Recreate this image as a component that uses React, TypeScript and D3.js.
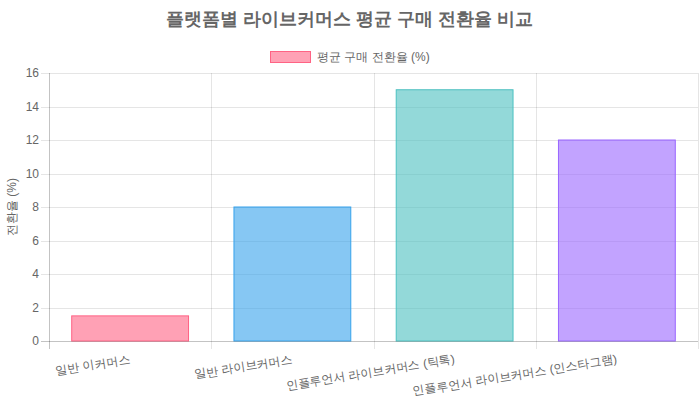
import { useEffect, useRef } from 'react';
import * as d3 from 'd3';

const WIDTH = 700;
const HEIGHT = 400;
const MARGIN = { top: 73, right: 2, bottom: 59, left: 49 };
const FONT = "'Helvetica Neue', Helvetica, Arial, sans-serif";

const TITLE = '플랫폼별 라이브커머스 평균 구매 전환율 비교';
const SERIES_NAME = '평균 구매 전환율 (%)';
const Y_TITLE = '전환율 (%)';

const categories = [
  '일반 이커머스',
  '일반 라이브커머스',
  '인플루언서 라이브커머스 (틱톡)',
  '인플루언서 라이브커머스 (인스타그램)',
];
const values = [1.5, 8, 15, 12];
const yTicks = [0, 2, 4, 6, 8, 10, 12, 14, 16];

const fills = [
  'rgba(255, 99, 132, 0.6)',
  'rgba(54, 162, 235, 0.6)',
  'rgba(75, 192, 192, 0.6)',
  'rgba(153, 102, 255, 0.6)',
];
const strokes = [
  'rgb(255, 99, 132)',
  'rgb(54, 162, 235)',
  'rgb(75, 192, 192)',
  'rgb(153, 102, 255)',
];

const GRID = 'rgba(0, 0, 0, 0.1)';
const TEXT = '#666';

export default function App() {
  const svgRef = useRef<SVGSVGElement>(null);

  useEffect(() => {
    document.body.style.margin = '0';
    if (!svgRef.current) return;

    const boundsWidth = WIDTH - MARGIN.left - MARGIN.right;
    const boundsHeight = HEIGHT - MARGIN.top - MARGIN.bottom;

    const svg = d3.select(svgRef.current);
    svg.selectAll('*').remove();

    const xScale = d3.scaleBand().domain(categories).range([0, boundsWidth]).padding(0);
    const yScale = d3.scaleLinear().domain([0, 16]).range([boundsHeight, 0]);

    // Titulo
    svg
      .append('text')
      .attr('x', WIDTH / 2)
      .attr('y', 19)
      .attr('text-anchor', 'middle')
      .attr('dominant-baseline', 'central')
      .style('font-family', FONT)
      .style('font-size', '18px')
      .style('font-weight', 'bold')
      .style('fill', TEXT)
      .text(TITLE);

    // Legenda
    const legend = svg.append('g').attr('transform', 'translate(270, 51)');
    legend
      .append('rect')
      .attr('x', 0.5)
      .attr('y', 0.5)
      .attr('width', 40)
      .attr('height', 11)
      .attr('fill', fills[0])
      .attr('stroke', strokes[0])
      .attr('stroke-width', 1);
    legend
      .append('text')
      .attr('x', 47)
      .attr('y', 6)
      .attr('dominant-baseline', 'central')
      .style('font-family', FONT)
      .style('font-size', '12px')
      .style('fill', TEXT)
      .text(SERIES_NAME);

    const container = svg
      .append('g')
      .attr('transform', `translate(${MARGIN.left}, ${MARGIN.top})`);

    // Grade horizontal + ticks
    container
      .selectAll('.hgrid')
      .data(yTicks)
      .join('line')
      .attr('class', 'hgrid')
      .attr('x1', -8)
      .attr('x2', boundsWidth)
      .attr('y1', d => Math.round(yScale(d)) + 0.5)
      .attr('y2', d => Math.round(yScale(d)) + 0.5)
      .attr('stroke', GRID)
      .attr('stroke-width', 1);

    // Grade vertical (limites das categorias)
    const bounds = [...categories.map(c => xScale(c)!), boundsWidth];
    container
      .selectAll('.vgrid')
      .data(bounds)
      .join('line')
      .attr('class', 'vgrid')
      .attr('x1', d => Math.round(d) + 0.5)
      .attr('x2', d => Math.round(d) + 0.5)
      .attr('y1', 0)
      .attr('y2', boundsHeight + 8)
      .attr('stroke', GRID)
      .attr('stroke-width', 1);

    // Barras
    const barWidth = xScale.bandwidth() * 0.72;
    container
      .selectAll('.bar')
      .data(values)
      .join('rect')
      .attr('class', 'bar')
      .attr('x', (_, i) => xScale(categories[i])! + (xScale.bandwidth() - barWidth) / 2)
      .attr('y', d => yScale(d))
      .attr('width', barWidth)
      .attr('height', d => boundsHeight - yScale(d))
      .attr('fill', (_, i) => fills[i])
      .attr('stroke', (_, i) => strokes[i])
      .attr('stroke-width', 1);

    // Eixos (linhas)
    container
      .append('line')
      .attr('x1', 0.5)
      .attr('x2', 0.5)
      .attr('y1', 0)
      .attr('y2', boundsHeight + 8)
      .attr('stroke', 'rgba(0,0,0,0.15)');
    container
      .append('line')
      .attr('x1', -8)
      .attr('x2', boundsWidth)
      .attr('y1', Math.round(boundsHeight) + 0.5)
      .attr('y2', Math.round(boundsHeight) + 0.5)
      .attr('stroke', 'rgba(0,0,0,0.15)');

    // Rotulos Y
    container
      .selectAll('.ylabel')
      .data(yTicks)
      .join('text')
      .attr('class', 'ylabel')
      .attr('x', -10)
      .attr('y', d => yScale(d))
      .attr('text-anchor', 'end')
      .attr('dominant-baseline', 'central')
      .style('font-family', FONT)
      .style('font-size', '12px')
      .style('fill', TEXT)
      .text(d => d);

    // Rotulos X (rotacionados)
    container
      .selectAll('.xlabel')
      .data(categories)
      .join('text')
      .attr('class', 'xlabel')
      .attr(
        'transform',
        d => `translate(${xScale(d)! + xScale.bandwidth() / 2}, ${boundsHeight + 18}) rotate(-9)`
      )
      .attr('text-anchor', 'end')
      .attr('dominant-baseline', 'central')
      .style('font-family', FONT)
      .style('font-size', '12px')
      .style('fill', TEXT)
      .text(d => d);

    // Titulo do eixo Y
    svg
      .append('text')
      .attr('transform', `translate(12, ${MARGIN.top + boundsHeight / 2}) rotate(-90)`)
      .attr('text-anchor', 'middle')
      .attr('dominant-baseline', 'central')
      .style('font-family', FONT)
      .style('font-size', '12px')
      .style('fill', TEXT)
      .text(Y_TITLE);
  }, []);

  return <svg ref={svgRef} width={WIDTH} height={HEIGHT} style={{ display: 'block' }} />;
}
